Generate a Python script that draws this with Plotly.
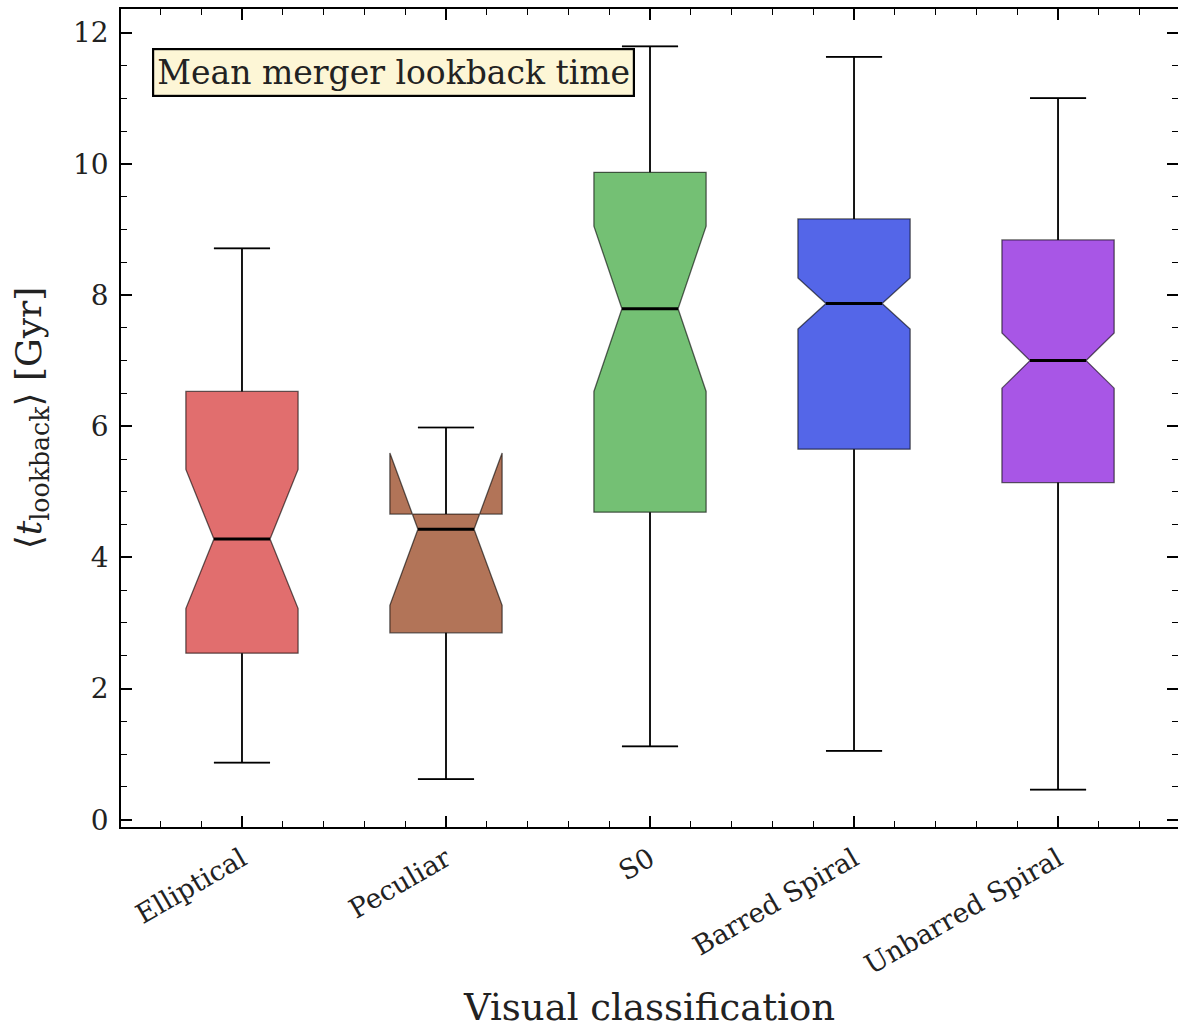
import plotly.graph_objects as go

# Box statistics per visual class (Gyr)
categories = ["Elliptical", "Peculiar", "S0", "Barred Spiral", "Unbarred Spiral"]
lower_whisker = [0.87, 0.62, 1.12, 1.05, 0.46]
q1 = [2.54, 2.85, 4.69, 5.65, 5.14]
median = [4.28, 4.43, 7.79, 7.87, 7.00]
q3 = [6.53, 4.66, 9.87, 9.16, 8.84]
upper_whisker = [8.71, 5.98, 11.79, 11.63, 11.00]
notch_half = [1.06, 1.16, 1.26, 0.39, 0.42]

fill_colors = ["#e16e6e", "#b27458", "#74c074", "#5466e8", "#a856e6"]
y_ticks = [0, 2, 4, 6, 8, 10, 12]

BOX_W = 0.55
FONT = "DejaVu Serif"

fig = go.Figure()
positions = list(range(len(categories)))

for i, name in enumerate(categories):
    fig.add_trace(go.Box(
        x=[positions[i]],
        q1=[q1[i]], median=[median[i]], q3=[q3[i]],
        lowerfence=[lower_whisker[i]], upperfence=[upper_whisker[i]],
        notched=True, notchspan=[notch_half[i]], notchwidth=0.25,
        width=BOX_W, whiskerwidth=0.5,
        fillcolor=fill_colors[i],
        line=dict(color="rgba(0,0,0,0.6)", width=1.3),
        name=name, showlegend=False,
    ))

# Black whiskers with caps, drawn over the boxes
for i in positions:
    cap = BOX_W / 4
    xs = [i, i, None, i, i, None,
          i - cap, i + cap, None, i - cap, i + cap]
    ys = [lower_whisker[i], q1[i], None, q3[i], upper_whisker[i], None,
          lower_whisker[i], lower_whisker[i], None, upper_whisker[i], upper_whisker[i]]
    fig.add_trace(go.Scatter(x=xs, y=ys, mode="lines",
                             line=dict(color="black", width=1.7),
                             showlegend=False, hoverinfo="skip"))
    # thick black median across the notch waist
    fig.add_trace(go.Scatter(x=[i - BOX_W / 4, i + BOX_W / 4], y=[median[i], median[i]],
                             mode="lines", line=dict(color="black", width=3),
                             showlegend=False, hoverinfo="skip"))

fig.add_annotation(
    x=0.0293, y=0.952, xref="paper", yref="paper", xanchor="left", yanchor="top",
    text="Mean merger lookback time", showarrow=False,
    font=dict(family=FONT, size=33, color="#222"),
    bgcolor="#fdf6d6", bordercolor="black", borderwidth=2.2, borderpad=3,
)

axis_common = dict(
    showline=True, linecolor="black", linewidth=1.5, mirror="allticks",
    ticks="inside", tickcolor="black", tickwidth=1.5, ticklen=11,
    showgrid=False, zeroline=False, automargin=False,
)

fig.update_layout(
    width=1178, height=1029,
    margin=dict(l=121, r=0, t=9, b=202),
    plot_bgcolor="white", paper_bgcolor="white",
    xaxis=dict(
        **axis_common,
        range=[-0.593, 4.588],
        tickmode="array", tickvals=positions, ticktext=categories,
        tickangle=-30, ticklabelstandoff=4,
        tickfont=dict(family=FONT, size=27, color="#222"),
        minor=dict(dtick=0.2, tick0=0, ticks="inside", ticklen=6,
                   tickcolor="black", tickwidth=1.2, showgrid=False),
        title=dict(text="Visual classification", font=dict(family=FONT, size=37, color="#222"),
                   standoff=24),
    ),
    yaxis=dict(
        **axis_common,
        range=[-0.11, 12.36],
        tickmode="array", tickvals=y_ticks, ticklabelstandoff=5,
        tickfont=dict(family=FONT, size=28, color="#222"),
        minor=dict(dtick=0.5, tick0=0, ticks="inside", ticklen=6,
                   tickcolor="black", tickwidth=1.2, showgrid=False),
        title=dict(text="⟨<i>t</i><sub>lookback</sub>⟩ [Gyr]",
                   font=dict(family=FONT, size=36, color="#222"), standoff=20),
    ),
)

fig.write_html("out.html")
